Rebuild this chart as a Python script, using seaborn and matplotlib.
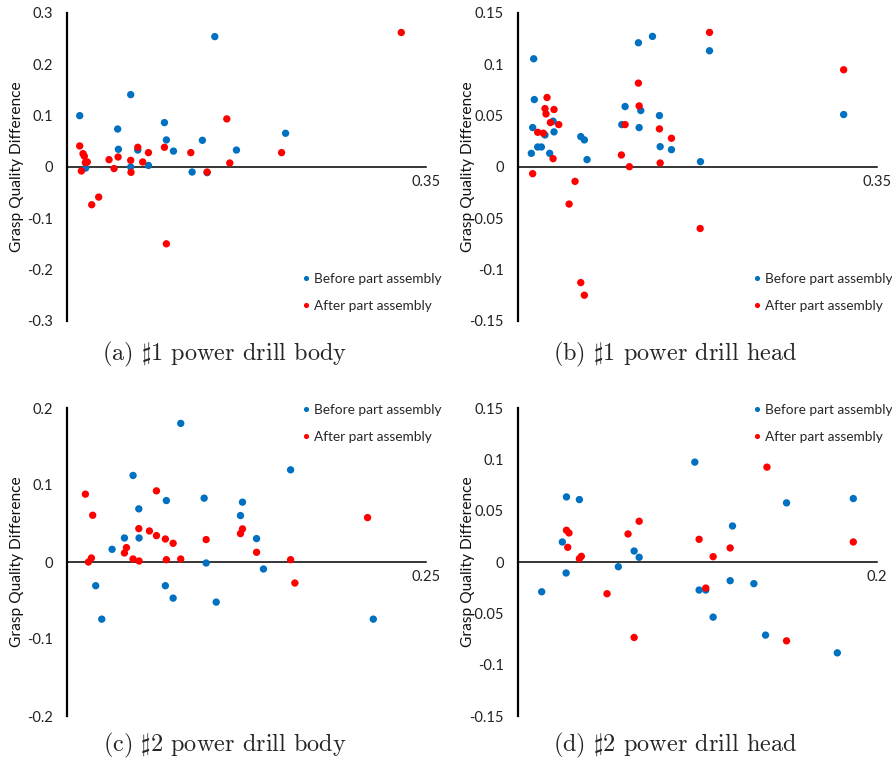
# Grasp quality difference scatter plots, four panels
import numpy as np
import pandas as pd
import matplotlib
matplotlib.use("Agg")
import matplotlib.pyplot as plt
import seaborn as sns

# ---- data ----
# (a) #1 power drill body
a_before_x = [0.0124, 0.0621, 0.0494, 0.0501, 0.0621, 0.0690, 0.0794, 0.0950, 0.0969, 0.1038,
              0.1220, 0.1320, 0.1366, 0.1441, 0.1652, 0.2131, 0.0182]
a_before_y = [0.100, 0.141, 0.074, 0.0345, 0.000, 0.033, 0.003, 0.0865, 0.0527, 0.031,
              -0.0098, 0.052, -0.011, 0.254, 0.033, 0.0657, -0.002]
a_after_x = [0.0124, 0.0156, 0.0169, 0.0140, 0.0179, 0.0198, 0.0241, 0.0309, 0.0410, 0.0498,
             0.0459, 0.0621, 0.0624, 0.0690, 0.0738, 0.0794, 0.0950, 0.0969, 0.1207, 0.1366,
             0.1558, 0.1587, 0.2092, 0.3259]
a_after_y = [0.041, 0.026, 0.021, -0.0078, 0.0085, 0.0098, -0.0735, -0.0586, 0.0143, 0.0195,
             -0.003, 0.013, -0.0104, 0.0384, 0.0098, 0.028, 0.0384, -0.1496, 0.028, -0.0098,
             0.0937, 0.0078, 0.028, 0.262]

# (b) #1 power drill head
b_before_x = [0.0153, 0.0159, 0.0143, 0.0130, 0.0192, 0.0228, 0.0263, 0.0309, 0.0342, 0.0351,
              0.0612, 0.0647, 0.0673, 0.1012, 0.1044, 0.1174, 0.1181, 0.1197, 0.1311, 0.1379,
              0.1386, 0.1496, 0.1779, 0.1867, 0.3175]
b_before_y = [0.1054, 0.0657, 0.0384, 0.0133, 0.0195, 0.0195, 0.0312, 0.0133, 0.0446, 0.0342,
              0.0296, 0.0264, 0.0072, 0.0413, 0.0589, 0.121, 0.0384, 0.055, 0.1272, 0.0501,
              0.0198, 0.0169, 0.0052, 0.1132, 0.0511]
b_after_x = [0.0143, 0.0192, 0.0247, 0.0263, 0.0273, 0.0283, 0.0316, 0.0351, 0.0397, 0.0342,
             0.0556, 0.0498, 0.0612, 0.0647, 0.1008, 0.1044, 0.1086, 0.1174, 0.1181, 0.1379,
             0.1386, 0.1496, 0.1776, 0.1867, 0.3175]
b_after_y = [-0.0065, 0.0338, 0.0329, 0.0569, 0.0517, 0.0677, 0.0433, 0.056, 0.0413, 0.0081,
             -0.014, -0.0361, -0.1126, -0.1249, 0.0117, 0.0413, 0.0003, 0.0817, 0.0595, 0.0371,
             0.0039, 0.028, -0.0599, 0.1311, 0.0947]

# (c) #2 power drill body
c_before_x = [0.0200, 0.0242, 0.0314, 0.0400, 0.0460, 0.0500, 0.0502, 0.0685, 0.0692, 0.0739,
              0.0792, 0.0955, 0.0969, 0.1039, 0.1208, 0.1222, 0.1320, 0.1368, 0.1557, 0.2133]
c_before_y = [-0.0308, -0.0742, 0.0165, 0.0312, 0.1124, 0.069, 0.0312, -0.0308, 0.0798, -0.0469,
              0.180, 0.0829, -0.0013, -0.0521, 0.0603, 0.0777, 0.0304, -0.0091, 0.1197, -0.0742]
c_after_x = [0.0128, 0.0179, 0.0149, 0.0170, 0.0400, 0.0414, 0.0460, 0.0502, 0.0500, 0.0574,
             0.0623, 0.0623, 0.0685, 0.0692, 0.0739, 0.0792, 0.0969, 0.1208, 0.1222, 0.1320,
             0.1557, 0.1587, 0.2093]
c_after_y = [0.0881, 0.0607, 0.000, 0.0052, 0.0117, 0.0187, 0.0039, 0.0013, 0.0434, 0.0403,
             0.0924, 0.0343, 0.0299, 0.003, 0.0243, 0.0039, 0.0291, 0.0369, 0.043, 0.0126,
             0.003, -0.0273, 0.0577]

# (d) #2 power drill head
d_before_x = [0.0132, 0.0247, 0.0268, 0.0270, 0.0342, 0.0559, 0.0647, 0.0675, 0.0985, 0.1009,
              0.1046, 0.1087, 0.1182, 0.1195, 0.1314, 0.1379, 0.1496, 0.1779, 0.1868]
d_before_y = [-0.029, 0.0195, -0.0107, 0.0634, 0.0608, -0.0046, 0.0107, 0.0046, 0.0973, -0.0273,
              -0.0273, -0.0537, -0.0182, 0.0351, -0.0211, -0.0712, 0.0576, -0.0885, 0.0618]
d_after_x = [0.0270, 0.0284, 0.0277, 0.0342, 0.0353, 0.0496, 0.0613, 0.0647, 0.0675, 0.1009,
             0.1046, 0.1087, 0.1182, 0.1387, 0.1496, 0.1868]
d_after_y = [0.0309, 0.0283, 0.0143, 0.0033, 0.0055, -0.0309, 0.0273, -0.0735, 0.0397, 0.0221,
             -0.0254, 0.0052, 0.0137, 0.0924, -0.0768, 0.0195]

captions = [r"(a) $\sharp$1 power drill body", r"(b) $\sharp$1 power drill head",
            r"(c) $\sharp$2 power drill body", r"(d) $\sharp$2 power drill head"]
x_max = [0.35, 0.35, 0.25, 0.2]
x_max_labels = ["0.35", "0.35", "0.25", "0.2"]
y_ticks = [[-0.3, -0.2, -0.1, 0, 0.1, 0.2, 0.3],
           [-0.15, -0.1, -0.05, 0, 0.05, 0.1, 0.15],
           [-0.2, -0.1, 0, 0.1, 0.2],
           [-0.15, -0.1, -0.05, 0, 0.05, 0.1, 0.15]]
y_tick_labels = [["-0.3", "-0.2", "-0.1", "0", "0.1", "0.2", "0.3"],
                 ["-0.15", "-0.1", "-0.05", "0", "0.05", "0.1", "0.15"],
                 ["-0.2", "-0.1", "0", "0.1", "0.2"],
                 ["-0.15", "-0.1", "-0.05", "0", "0.05", "0.1", "0.15"]]
series_names = ["Before part assembly", "After part assembly"]

panels = [(a_before_x, a_before_y, a_after_x, a_after_y),
          (b_before_x, b_before_y, b_after_x, b_after_y),
          (c_before_x, c_before_y, c_after_x, c_after_y),
          (d_before_x, d_before_y, d_after_x, d_after_y)]

sns.set_style("white")
plt.rcParams["font.family"] = ["Lato", "DejaVu Sans"]
plt.rcParams["mathtext.fontset"] = "cm"

W, H = 892, 767
fig = plt.figure(figsize=(W / 100, H / 100), dpi=100)

# axes boxes in pixels: left spine x, top y, right x, bottom y
boxes = [(67, 13, 426, 321), (518, 13, 877, 321),
         (67, 408, 426, 716), (518, 408, 877, 716)]
# legend marker x and first row y, in pixels
legend_pos = [(306, 279), (757, 279), (306, 410), (757, 410)]
caption_pos = [(225, 354), (675, 354), (225, 745), (675, 745)]

palette = {series_names[0]: "#0070C0", series_names[1]: "#FF0000"}

for i, (bx, by, ax_, ay) in enumerate(panels):
    l, t, r, b = boxes[i]
    ax = fig.add_axes([l / W, 1 - b / H, (r - l) / W, (b - t) / H])
    df = pd.DataFrame({
        "x": bx + ax_,
        "y": by + ay,
        "series": [series_names[0]] * len(bx) + [series_names[1]] * len(ax_),
    })
    sns.scatterplot(data=df, x="x", y="y", hue="series", palette=palette,
                    s=28, linewidth=0, ax=ax, zorder=3)

    ax.set_xlim(0, x_max[i])
    ax.set_ylim(y_ticks[i][0], y_ticks[i][-1])
    ax.set_yticks(y_ticks[i])
    ax.set_yticklabels(y_tick_labels[i])
    ax.set_xticks([x_max[i]])
    ax.set_xticklabels([x_max_labels[i]])
    ax.tick_params(axis="y", length=0, pad=10, labelsize=10.5, labelcolor="#222222")
    ax.tick_params(axis="x", length=0, pad=6, labelsize=10.5, labelcolor="#222222")

    ax.spines["top"].set_visible(False)
    ax.spines["right"].set_visible(False)
    ax.spines["bottom"].set_position(("data", 0))
    ax.spines["bottom"].set_linewidth(1.1)
    ax.spines["left"].set_linewidth(1.6)
    ax.spines["bottom"].set_color("black")
    ax.spines["left"].set_color("black")
    ax.set_xlabel("")
    ax.set_ylabel("Grasp Quality Difference", fontsize=11.2, color="#111111")
    ax.yaxis.set_label_coords(-43 / (r - l), 0.5)

    mx, my = legend_pos[i]
    sns.move_legend(ax, "upper left",
                    bbox_to_anchor=((mx - 4) / W, 1 - (my - 6) / H),
                    bbox_transform=fig.transFigure,
                    title="", frameon=False, fontsize=9.8, borderpad=0,
                    handlelength=0.6, handletextpad=0.3, labelspacing=1.1,
                    markerscale=0.7, borderaxespad=0)

    cx, cy = caption_pos[i]
    fig.text(cx / W, 1 - cy / H, captions[i], ha="center", va="center",
             fontsize=17.5, family="cmr10")

fig.savefig("out.png", dpi=100)
